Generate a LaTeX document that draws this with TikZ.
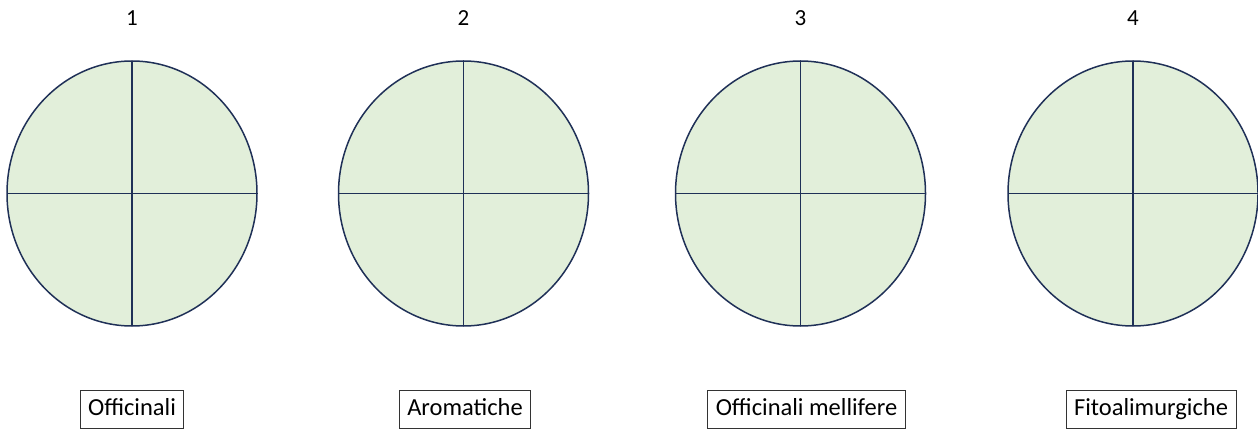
\documentclass[tikz,border=0pt]{standalone}
\usepackage{fontspec}
\setmainfont{Carlito}
\definecolor{circfill}{HTML}{E2EFDA}
\definecolor{circline}{HTML}{1F3057}
\begin{document}
\begin{tikzpicture}[x=1pt,y=-1pt,
  divline/.style={draw=circline,line width=1.5pt},
  numlabel/.style={font=\fontsize{23}{26}\selectfont,inner sep=0pt},
  catbox/.style={draw=black!80,line width=1pt,font=\fontsize{24.5}{28}\selectfont,inner xsep=8pt,inner ysep=0pt,text height=17pt,text depth=5pt,minimum height=38pt,fill=white}]
\useasboundingbox (0,0) rectangle (1258,430);
\foreach \i/\cx in {1/132,2/463.5,3/800.5,4/1133}{
  \coordinate (c\i) at (\cx,193.5);
  \coordinate (t\i) at (\cx,61);
  \coordinate (b\i) at (\cx,326);
  \coordinate (l\i) at (\cx-125,193.5);
  \coordinate (r\i) at (\cx+125,193.5);
  \fill[circfill] (c\i) ellipse [x radius=125, y radius=132.5];
  \draw[divline] (t\i) -- (b\i);
  \draw[divline] (l\i) -- (r\i);
  \draw[draw=circline,line width=1.5pt] (c\i) ellipse [x radius=125, y radius=132.5];
  \node[numlabel] (n\i) at (\cx,18) {\i};
}
\node[catbox] (k1) at (132,409) {Officinali};
\node[catbox] (k2) at (465,409) {Aromatiche};
\node[catbox] (k3) at (806.5,409) {Officinali mellifere};
\node[catbox] (k4) at (1151,409) {Fitoalimurgiche};
\end{tikzpicture}
\end{document}
